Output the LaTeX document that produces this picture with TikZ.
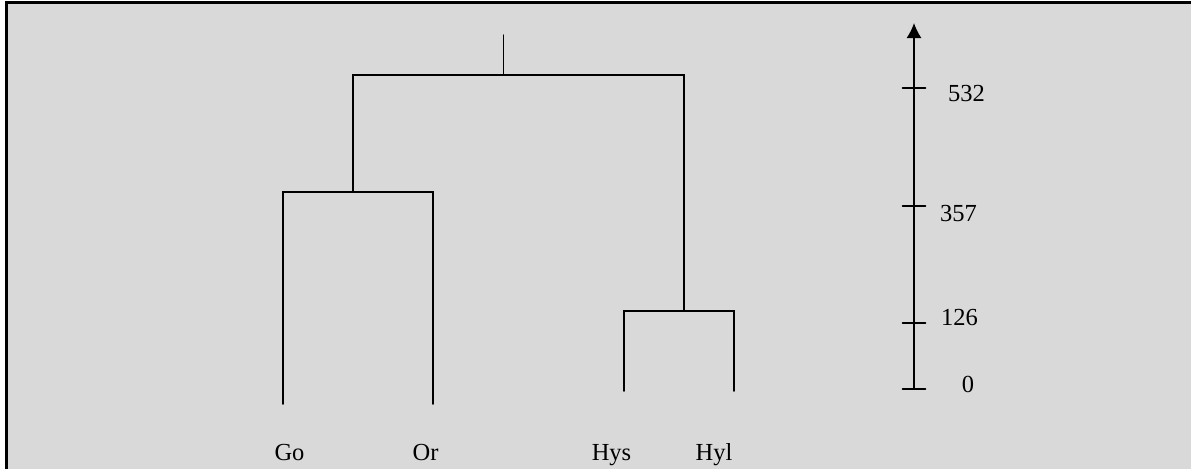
\documentclass[tikz,border=0pt]{standalone}
\usepackage{fontspec}
\setmainfont{Liberation Serif}
\usepackage{tkz-euclide}
\usepackage{tikz}
\usetikzlibrary{arrows,arrows.meta}
\tikzset{>=stealth}
\definecolor{panelColor}{RGB}{217,217,217}
\colorlet{penColor}{black}

\begin{document}
\begin{tikzpicture}[x=1pt,y=-1pt,font=\fontsize{24.5}{28}\selectfont]
            \useasboundingbox (0,0) rectangle (1191,469);
            \fill[panelColor] (6,2) rectangle (1191,469);
            \draw[line width=3pt] (6.2,469) -- (6.2,2.2) -- (1191,2.2);
            % tree
            \tkzDefPoint(283,404){Go}
            \tkzDefPoint(433,404){Or}
            \tkzDefPoint(624,391){Hys}
            \tkzDefPoint(734,391){Hyl}
            \tkzDefPoint(283,192){A}
            \tkzDefPoint(433,192){B}
            \tkzDefPoint(353,192){C}
            \tkzDefPoint(624,311){D}
            \tkzDefPoint(734,311){E}
            \tkzDefPoint(684,311){F}
            \tkzDefPoint(353,75){G}
            \tkzDefPoint(684,75){H}
            \tkzDefPoint(503.5,75){R}
            \tkzDefPoint(503.5,35){S}
            \tkzDrawPolySeg[color=penColor,line width=1.5pt](Go,A,B,Or)
            \tkzDrawPolySeg[color=penColor,line width=1.5pt](Hys,D,E,Hyl)
            \tkzDrawPolySeg[color=penColor,line width=1.5pt](C,G,H,F)
            \tkzDrawSegment[color=penColor,line width=1.5pt](R,S)
            \node[anchor=base] (lGo)  at (289.5,460) {Go};
            \node[anchor=base] (lOr)  at (425.5,460) {Or};
            \node[anchor=base] (lHys) at (611.5,460) {Hys};
            \node[anchor=base] (lHyl) at (714,460) {Hyl};
            % scale
            \tkzDefPoint(914,389){O}
            \tkzDefPoint(914,23){Z}
            \draw[color=penColor,line width=1.5pt,
              -{Latex[length=15pt,width=15pt]}] (O) -- (Z);
            \foreach \y/\v/\lx/\ly in {389/0/968/392.5,323/126/959.5/325,
                                      206/357/958.5/221,88/532/966.5/101}{
              \tkzDefPoint(902.5,\y){P}
              \tkzDefPoint(925.5,\y){Q}
              \tkzDrawSegment[color=penColor,line width=1.5pt](P,Q)
              \node[anchor=base] (t\v) at (\lx,\ly) {\v};
            }
      \end{tikzpicture}
\end{document}
